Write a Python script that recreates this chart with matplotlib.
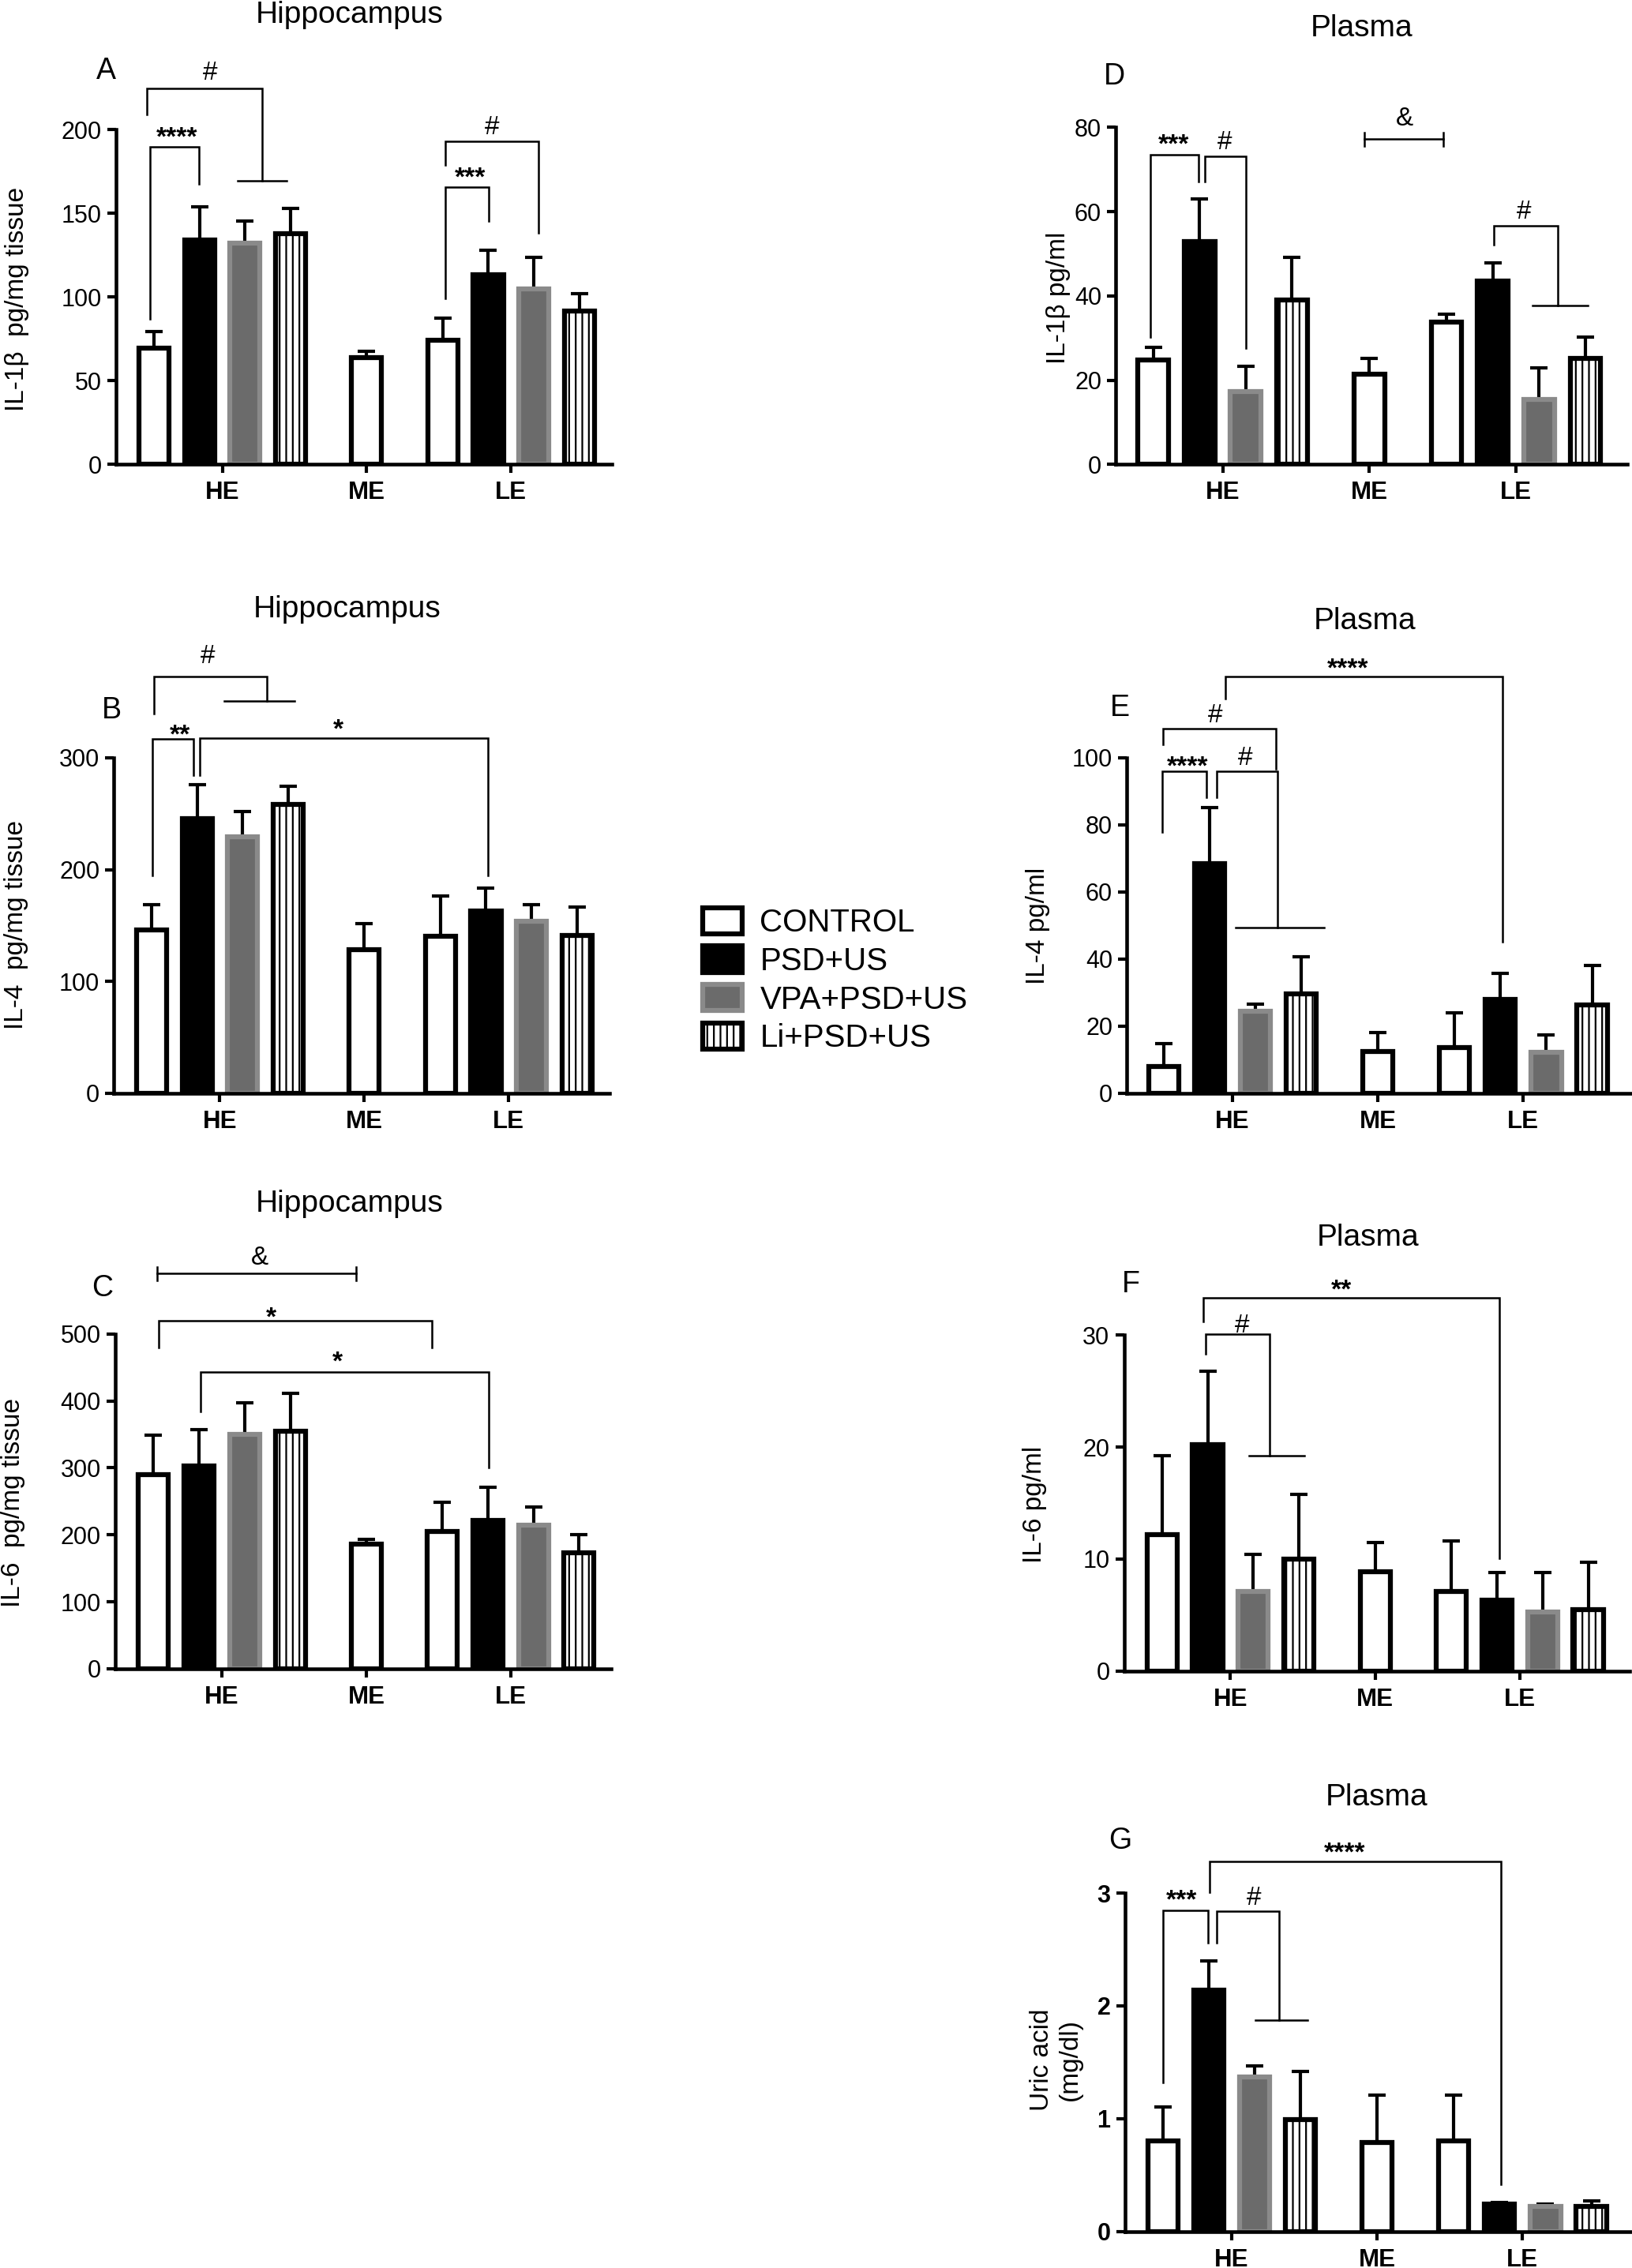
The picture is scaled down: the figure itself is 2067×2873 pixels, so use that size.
import matplotlib
matplotlib.use('Agg')
import matplotlib.pyplot as plt

plt.rcParams['font.family'] = ['Liberation Sans', 'DejaVu Sans']
plt.rcParams['hatch.linewidth'] = 1.6

W, H = 2067, 2873

groups = ['HE', 'ME', 'LE']
group_pos = [0.0, 3.17, 6.34]
series = ['CONTROL', 'PSD+US', 'VPA+PSD+US', 'Li+PSD+US']
# ME only has the control group
bar_group = [0, 0, 0, 0, 1, 2, 2, 2, 2]
bar_series = [0, 1, 2, 3, 0, 0, 1, 2, 3]

# hippocampus
il1b_hip = [69.3, 134.0, 131.9, 137.8, 63.8, 74.2, 113.5, 104.8, 91.8]
il1b_hip_sem = [9.9, 19.6, 13.4, 15.0, 3.9, 13.3, 14.6, 18.8, 10.1]
il4_hip = [146.2, 245.5, 229.1, 258.1, 128.3, 140.2, 162.9, 153.5, 140.9]
il4_hip_sem = [22.4, 30.3, 22.7, 16.7, 23.6, 36.0, 20.5, 15.1, 25.8]
il6_hip = [289.5, 302.6, 350.0, 355.3, 185.8, 205.3, 221.0, 214.7, 173.7]
il6_hip_sem = [59.5, 54.2, 47.4, 56.3, 7.9, 43.1, 50.0, 26.3, 26.3]

# plasma
il1b_pla = [24.8, 52.9, 17.3, 39.0, 21.5, 33.7, 43.6, 15.4, 25.1]
il1b_pla_sem = [2.9, 10.1, 6.0, 10.1, 3.6, 2.0, 4.3, 7.5, 5.2]
il4_pla = [7.9, 68.5, 24.4, 29.6, 12.4, 13.6, 28.0, 12.3, 26.4]
il4_pla_sem = [7.0, 16.5, 2.1, 11.1, 5.8, 10.3, 7.7, 5.2, 11.7]
il6_pla = [12.2, 20.2, 7.1, 10.0, 8.9, 7.1, 6.3, 5.3, 5.5]
il6_pla_sem = [7.0, 6.6, 3.3, 5.8, 2.6, 4.5, 2.5, 3.5, 4.2]
uric_pla = [0.80, 2.14, 1.37, 0.99, 0.79, 0.80, 0.24, 0.22, 0.22]
uric_pla_sem = [0.305, 0.26, 0.10, 0.43, 0.42, 0.41, 0.02, 0.02, 0.05]

styles = [
    dict(color='white', edgecolor='black'),
    dict(color='black', edgecolor='black'),
    dict(color='#6b6b6b', edgecolor='#8a8a8a'),
    dict(color='white', edgecolor='black', hatch='||'),
]


def fx(px):
    return px / W


def fy(py):
    return 1 - py / H


def draw_panel(geom, means, sems, yticks, ylabel, label_xy, title, title_xy,
               letter, letter_xy, brackets, lines, caps, marks, bold_ticks=False):
    """
    画一个柱状图面板：geom = (y轴像素, HE像素, 柱间距像素, y0像素, 顶部像素, x右端)
    """
    left, he, step, y0, ytop, xhi = geom
    xlo = (left - he) / step
    ax = plt.gcf().add_axes([fx(left), fy(y0), (xhi - xlo) * step / W, (y0 - ytop) / H])
    counts = [bar_group.count(g) for g in range(len(groups))]
    handles = []
    for s in range(len(series)):
        idx = [i for i in range(len(means)) if bar_series[i] == s]
        xs = []
        for i in idx:
            g = bar_group[i]
            off = s - (counts[g] - 1) / 2 if counts[g] > 1 else 0
            xs.append(group_pos[g] + off)
        hs = [means[i] for i in idx]
        es = [sems[i] for i in idx]
        ax.errorbar(xs, hs, yerr=[[0] * len(es), es], fmt='none', ecolor='black',
                    elinewidth=3, capsize=8, capthick=3, zorder=1)
        b = ax.bar(xs, hs, width=0.66, linewidth=4.5, zorder=2, **styles[s])
        handles.append(b)

    for x1, x2, yl, yt, yr in brackets:
        ax.plot([x1, x1, x2, x2], [yl, yt, yt, yr], color='black', lw=1.8,
                clip_on=False, solid_joinstyle='miter')
    for y, x1, x2 in lines:
        ax.plot([x1, x2], [y, y], color='black', lw=1.8, clip_on=False)
    for y, x1, x2, d in caps:
        ax.plot([x1, x2], [y, y], color='black', lw=1.8, clip_on=False)
        ax.plot([x1, x1], [y - d, y + d], color='black', lw=1.8, clip_on=False)
        ax.plot([x2, x2], [y - d, y + d], color='black', lw=1.8, clip_on=False)
    for txt, x, y in marks:
        if '*' in txt:
            ax.annotate(txt, (x, y), xytext=(0, -0.6 * 24), textcoords='offset points',
                        ha='center', va='baseline', fontsize=24, fontweight='bold',
                        annotation_clip=False)
        else:
            ax.annotate(txt, (x, y), xytext=(0, -0.36 * 24), textcoords='offset points',
                        ha='center', va='baseline', fontsize=24, annotation_clip=False)

    ax.set_xlim(xlo, xhi)
    ax.set_ylim(0, yticks[-1])
    ax.set_yticks(yticks)
    ax.set_yticklabels([('%g' % t) for t in yticks], fontsize=22,
                       fontweight='bold' if bold_ticks else 'normal')
    ax.set_xticks(group_pos)
    ax.set_xticklabels(groups, fontsize=22.5, fontweight='bold')
    for side in ['top', 'right']:
        ax.spines[side].set_visible(False)
    for side in ['left', 'bottom']:
        ax.spines[side].set_linewidth(3.3)
    ax.tick_params(axis='both', width=3, length=8, direction='out')
    ax.tick_params(axis='y', pad=5)
    ax.tick_params(axis='x', pad=7)

    fig = plt.gcf()
    fig.text(fx(label_xy[0]), fy(label_xy[1]), ylabel, rotation=90, fontsize=24,
             ha='center', va='center', multialignment='center')
    fig.text(fx(title_xy[0]), fy(title_xy[1]), title, fontsize=28, ha='center', va='center')
    fig.text(fx(letter_xy[0]), fy(letter_xy[1]), letter, fontsize=27, ha='center', va='center')
    return handles


fig = plt.figure(figsize=(W / 100, H / 100), dpi=100)
fig.patch.set_facecolor('white')

handles = draw_panel(
    (146.5, 281.5, 57.7, 588.3, 164.0, 8.55), il1b_hip, il1b_hip_sem,
    [0, 50, 100, 150, 200], 'IL-1β  pg/mg tissue', (22, 379),
    'Hippocampus', (443, 19), 'A', (134, 90),
    [(-1.59, -0.51, 86.9, 189.7, 167.4), (-1.65, 0.88, 208.9, 224.7, 169.4),
     (4.9, 6.94, 178.9, 193.1, 138.2), (4.9, 5.85, 99.3, 165.4, 145.3)],
    [(169.4, 0.34, 1.42)], [],
    [('****', -1.0, 200), ('#', -0.27, 235.5), ('#', 5.92, 203), ('***', 5.44, 176.3)])

draw_panel(
    (144.3, 278.5, 57.7, 1384.9, 959.9, 8.55), il4_hip, il4_hip_sem,
    [0, 100, 200, 300], 'IL-4  pg/mg tissue', (21, 1172),
    'Hippocampus', (440, 772), 'B', (141, 900),
    [(-1.48, -0.58, 194.5, 316.7, 284.3), (-0.45, 5.89, 284.3, 317.4, 195.1),
     (-1.44, 1.03, 339.4, 372.5, 351)],
    [(351, 0.1, 1.64)], [],
    [('**', -0.88, 328), ('*', 2.59, 333), ('#', -0.26, 393)])

draw_panel(
    (145.7, 281.0, 57.7, 2113.9, 1689.8, 8.55), il6_hip, il6_hip_sem,
    [0, 100, 200, 300, 400, 500], 'IL-6  pg/mg tissue', (17, 1904),
    'Hippocampus', (443, 1525), 'C', (130, 1632),
    [(-1.38, 4.61, 480, 520, 480), (-0.47, 5.86, 384, 443.7, 301)],
    [], [(590.5, -1.42, 2.94, 10)],
    [('&', 0.84, 618), ('*', 1.09, 537), ('*', 2.53, 471)])

draw_panel(
    (1413.1, 1548.5, 58.6, 588.4, 161.2, 8.75), il1b_pla, il1b_pla_sem,
    [0, 20, 40, 60, 80], 'IL-1β pg/ml', (1341, 377),
    'Plasma', (1725, 36), 'D', (1411, 97),
    [(-1.56, -0.52, 30.2, 73.4, 67.1), (-0.38, 0.51, 67.1, 73.1, 27.6),
     (5.86, 7.24, 52.2, 56.6, 37.8)],
    [(37.8, 6.7, 7.9)], [(77.2, 3.07, 4.77, 1.6)],
    [('***', -1.05, 77.9), ('#', 0.04, 77.1), ('&', 3.93, 82.6), ('#', 6.51, 60.5)])

draw_panel(
    (1427.1, 1561.0, 58.1, 1385.0, 959.6, 8.75), il4_pla, il4_pla_sem,
    [0, 20, 40, 60, 80, 100], 'IL-4 pg/ml', (1314, 1173),
    'Plasma', (1729, 787), 'E', (1418, 897),
    [(-1.54, -0.57, 77.9, 96.0, 88.1), (-0.35, 0.98, 88.1, 96.0, 49.3),
     (-1.52, 0.95, 103.9, 108.6, 96.5), (-0.15, 5.88, 117.5, 124.1, 45.1)],
    [(49.3, 0.07, 2.0)], [],
    [('****', -0.98, 99.7), ('#', 0.28, 100.7), ('#', -0.38, 113.3), ('****', 2.52, 129)])

draw_panel(
    (1423.5, 1558.4, 57.8, 2116.8, 1691.3, 8.75), il6_pla, il6_pla_sem,
    [0, 10, 20, 30], 'IL-6 pg/ml', (1311, 1906),
    'Plasma', (1733, 1568), 'F', (1432, 1627),
    [(-0.54, 0.86, 28.3, 30.1, 19.2), (-0.59, 5.89, 31.2, 33.3, 10.1)],
    [(19.2, 0.41, 1.62)], [],
    [('#', 0.25, 31.1), ('**', 2.43, 34.8)])

draw_panel(
    (1424.5, 1560.0, 58.1, 2826.7, 2398.1, 8.75), uric_pla, uric_pla_sem,
    [0, 1, 2, 3], 'Uric acid\n(mg/dl)', (1337, 2609),
    'Plasma', (1744, 2277), 'G', (1419, 2332),
    [(-1.5, -0.51, 1.32, 2.85, 2.56), (-0.33, 1.03, 2.56, 2.84, 1.875),
     (-0.48, 5.87, 3.01, 3.28, 0.42)],
    [(1.875, 0.51, 1.66)], [],
    [('***', -1.1, 3.01), ('#', 0.49, 2.98), ('****', 2.47, 3.43)],
    bold_ticks=True)

fig.legend(handles, series, loc='center left', bbox_to_anchor=(fx(890), fy(1242)),
           frameon=False, fontsize=29, handlelength=1.25, handleheight=0.9,
           handletextpad=0.55, labelspacing=0.25, borderpad=0, borderaxespad=0)

plt.savefig('out.png', format='png', dpi=100)
